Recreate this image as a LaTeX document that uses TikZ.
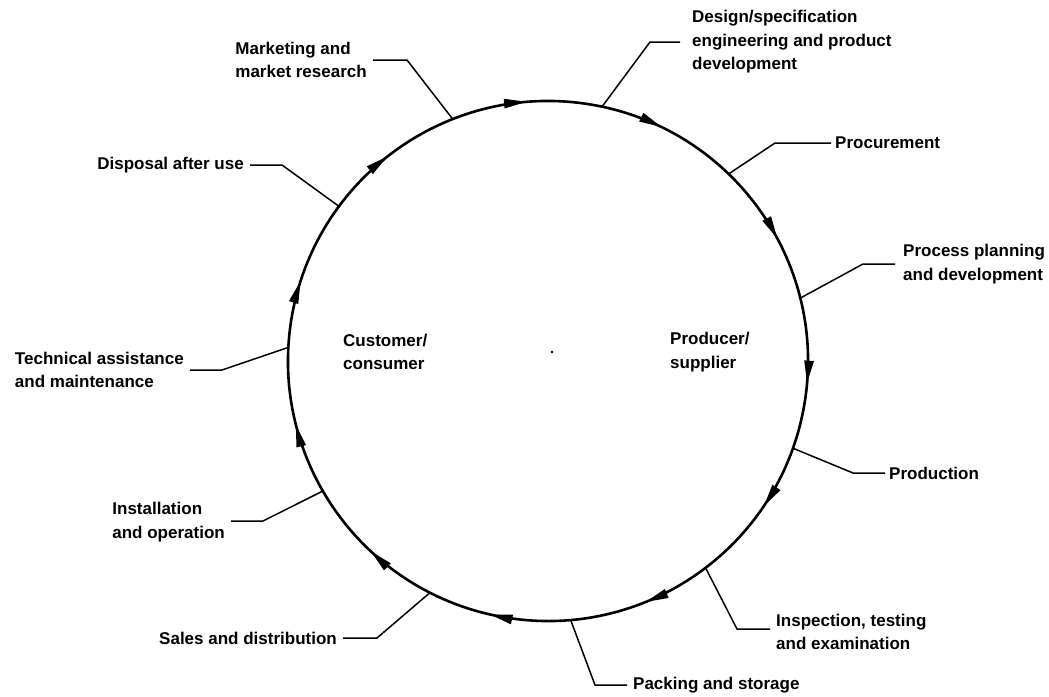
\documentclass[tikz,border=0pt]{standalone}
\usepackage{fontspec}
\setmainfont{Liberation Sans}
\usetikzlibrary{arrows.meta,decorations.markings}
\begin{document}
\begin{tikzpicture}[x=1pt,y=-1pt,
  lbl/.style={font=\fontsize{17}{23.5}\selectfont\bfseries, align=left, inner xsep=6pt, inner ysep=0pt},
  leader/.style={line width=1.5pt},
  ring/.style={line width=2.6pt}]
\useasboundingbox (0,0) rectangle (1049,696);

% centre of the loop
\coordinate (c) at (548,361);
\fill (552,352) circle (1.4);

% the quality loop, running clockwise
\tikzset{looptip/.tip={Triangle[length=23pt,width=9pt]}}
\draw[ring, postaction={decorate}, decoration={markings,
  mark=at position 0.0667 with {\arrow{looptip}},
  mark=at position 0.1611 with {\arrow{looptip}},
  mark=at position 0.2583 with {\arrow{looptip}},
  mark=at position 0.3417 with {\arrow{looptip}},
  mark=at position 0.4333 with {\arrow{looptip}},
  mark=at position 0.5222 with {\arrow{looptip}},
  mark=at position 0.6167 with {\arrow{looptip}},
  mark=at position 0.7094 with {\arrow{looptip}},
  mark=at position 0.7944 with {\arrow{looptip}},
  mark=at position 0.8944 with {\arrow{looptip}},
  mark=at position 0.9861 with {\arrow{looptip}}}]
  (c) ++(10:260) arc[start angle=10, end angle=370, radius=260];

% attachment points on the loop
\path (c) ++(-78:260)   coordinate (aDes)
      (c) ++(-46:260)   coordinate (aPro)
      (c) ++(-14:260)   coordinate (aPpl)
      (c) ++(19.6:260)  coordinate (aPrd)
      (c) ++(52.7:260)  coordinate (aIns)
      (c) ++(85:260)    coordinate (aPak)
      (c) ++(117:260)   coordinate (aSal)
      (c) ++(150:260)   coordinate (aIop)
      (c) ++(183:260)   coordinate (aTec)
      (c) ++(216.5:260) coordinate (aDis)
      (c) ++(248.5:260) coordinate (aMkt);

% bends of the leaders
\coordinate (bDes) at (650,42);
\coordinate (bPro) at (775,143);
\coordinate (bPpl) at (863,264);
\coordinate (bPrd) at (853,473);
\coordinate (bIns) at (737,629);
\coordinate (bPak) at (595,685);
\coordinate (bSal) at (377,638);
\coordinate (bIop) at (263,521);
\coordinate (bTec) at (222,370);
\coordinate (bDis) at (282,165);
\coordinate (bMkt) at (407,60);

% stage labels
\node[lbl, anchor=west, inner xsep=12pt] (lDes) at (680,42) {Design/specification\\engineering and product\\development};
\node[lbl, anchor=west, inner xsep=4pt] (lPro) at (831,143) {Procurement};
\node[lbl, anchor=west, inner xsep=8pt] (lPpl) at (895,264) {Process planning\\and development};
\node[lbl, anchor=west, inner xsep=4pt] (lPrd) at (885,473) {Production};
\node[lbl, anchor=west] (lIns) at (770,632) {Inspection, testing\\and examination};
\node[lbl, anchor=west] (lPak) at (627,685) {Packing and storage};
\node[lbl, anchor=east] (lSal) at (343,638) {Sales and distribution};
\node[lbl, anchor=east] (lIop) at (231,522) {Installation\\and operation};
\node[lbl, anchor=east] (lTec) at (190,370) {Technical assistance\\and maintenance};
\node[lbl, anchor=east] (lDis) at (250,165) {Disposal after use};
\node[lbl, anchor=east] (lMkt) at (373,60) {Marketing and\\market research};

% leaders
\draw[leader] (aDes) -- (bDes) -- (lDes.west |- bDes);
\draw[leader] (aPro) -- (bPro) -- (lPro.west);
\draw[leader] (aPpl) -- (bPpl) -- (lPpl.west |- bPpl);
\draw[leader] (aPrd) -- (bPrd) -- (lPrd.west);
\draw[leader] (aIns) -- (bIns) -- (lIns.west |- bIns);
\draw[leader] (aPak) -- (bPak) -- (lPak.west);
\draw[leader] (aSal) -- (bSal) -- (lSal.east);
\draw[leader] (aIop) -- (bIop) -- (lIop.east |- bIop);
\draw[leader] (aTec) -- (bTec) -- (lTec.east);
\draw[leader] (aDis) -- (bDis) -- (lDis.east);
\draw[leader] (aMkt) -- (bMkt) -- (lMkt.east);

% the two parties
\node[lbl, anchor=west, inner xsep=4pt] (cust) at (339,352) {Customer/\\consumer};
\node[lbl, anchor=west, inner xsep=4pt] (prod) at (666,352) {Producer/\\supplier};
\end{tikzpicture}
\end{document}
